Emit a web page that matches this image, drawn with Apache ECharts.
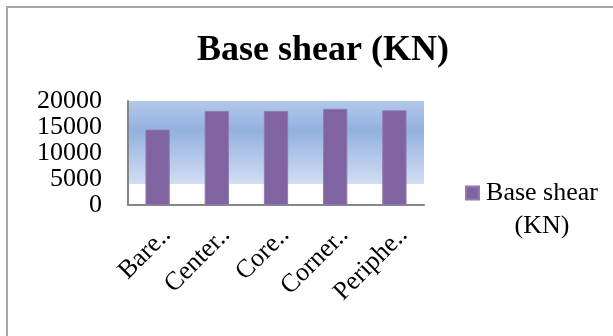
<!DOCTYPE html>
<html>
<head>
<meta charset="utf-8">
<script src="https://cdn.jsdelivr.net/npm/echarts@6/dist/echarts.min.js"></script>
<style>
  html, body { margin: 0; padding: 0; background: #fff; }
  #chart { width: 613px; height: 336px; }
</style>
</head>
<body>
<div id="chart"></div>
<script>
// ---------------------------------------------------
// Data
// ---------------------------------------------------
const categories = ["Bare..", "Center..", "Core..", "Corner..", "Periphe.."];
const baseShear = [14500, 18100, 18100, 18500, 18200];
const yTicks = [0, 5000, 10000, 15000, 20000];

const seriesName = "Base shear (KN)";
const serif = "'Liberation Serif', 'Times New Roman', serif";

// plot area fill: blue gradient that stops above the axis
const plotFill = new echarts.graphic.LinearGradient(0, 0, 0, 1, [
  { offset: 0, color: "#b3c8ea" },
  { offset: 0.28, color: "#92b1e0" },
  { offset: 0.795, color: "#d2ddf2" },
  { offset: 0.796, color: "#ffffff" },
  { offset: 1, color: "#ffffff" }
]);

const chart = echarts.init(document.getElementById("chart"));

chart.setOption({
  animation: false,
  backgroundColor: "#fff",
  title: {
    text: "Base shear (KN)",
    left: 318,
    textAlign: "center",
    top: 28,
    textStyle: { fontFamily: serif, fontSize: 36, fontWeight: "bold", color: "#000" }
  },
  grid: {
    left: 128,
    right: 189,
    top: 101,
    bottom: 131,
    show: true,
    borderWidth: 0,
    backgroundColor: plotFill
  },
  legend: {
    left: 465,
    top: 143,
    padding: 0,
    icon: "rect",
    itemWidth: 13,
    itemHeight: 13,
    itemGap: 0,
    data: [seriesName],
    formatter: () => "{e|}\n{a|Base shear}\n{a|(KN)}",
    textStyle: {
      fontFamily: serif,
      fontSize: 26,
      color: "#000",
      rich: {
        e: { height: 34, lineHeight: 34 },
        a: { fontFamily: serif, fontSize: 26, width: 116, align: "center", lineHeight: 33 }
      }
    }
  },
  xAxis: {
    type: "category",
    data: categories,
    axisLine: { lineStyle: { color: "#868686", width: 2 } },
    axisTick: { show: false },
    axisLabel: {
      rotate: 45,
      margin: 17,
      verticalAlign: "top",
      fontFamily: serif,
      fontSize: 26,
      color: "#000",
      interval: 0
    }
  },
  yAxis: {
    type: "value",
    min: yTicks[0],
    max: yTicks[yTicks.length - 1],
    interval: 5000,
    axisLine: { show: true, lineStyle: { color: "#868686", width: 2 } },
    axisTick: { show: false },
    splitLine: { show: false },
    axisLabel: {
      margin: 26,
      padding: [6, 0, 0, 0],
      formatter: v => String(v),
      fontFamily: serif,
      fontSize: 26,
      color: "#000"
    }
  },
  series: [
    {
      name: seriesName,
      type: "bar",
      data: baseShear,
      barWidth: "41%",
      itemStyle: { color: "#8064a2", borderColor: "#9179b0", borderWidth: 1 }
    }
  ],
  graphic: [
    {
      type: "rect",
      shape: { x: 7, y: 7, width: 700, height: 400 },
      style: { fill: null, stroke: "#a6a6a6", lineWidth: 2 },
      silent: true
    }
  ]
});
</script>
</body>
</html>
